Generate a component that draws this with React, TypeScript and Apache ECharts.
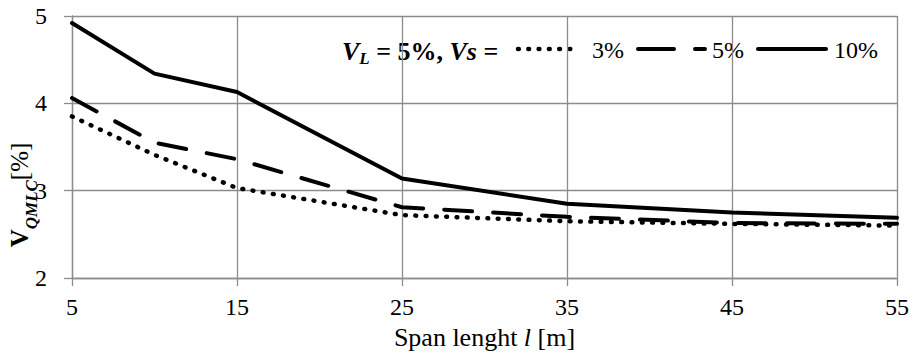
import React, { useEffect, useRef } from 'react';
import * as echarts from 'echarts';

const spans = [5, 10, 15, 25, 35, 45, 55];
const vs3 = [3.85, 3.41, 3.03, 2.72, 2.65, 2.62, 2.6];
const vs5 = [4.06, 3.55, 3.36, 2.81, 2.7, 2.63, 2.62];
const vs10 = [4.92, 4.34, 4.13, 3.14, 2.85, 2.75, 2.69];
const xTicks = [5, 15, 25, 35, 45, 55];
const seriesNames = ['3%', '5%', '10%'];

const FONT = 'Liberation Serif, serif';
const GRID = '#8c8c8c';

export default function App() {
  const ref = useRef<HTMLDivElement>(null);
  useEffect(() => {
    if (!ref.current) return;
    const chart = echarts.init(ref.current, undefined, { renderer: 'svg' });
    const pts = (ys: number[]) => spans.map((x, i) => [x, ys[i]]);
    const dotStyle = { color: '#000', width: 4.5, type: [0.8, 9.5], cap: 'round' as const };
    const dashStyle = { color: '#000', width: 4, type: [28, 21], cap: 'round' as const };
    const solidStyle = { color: '#000', width: 4, type: 'solid' as const, cap: 'round' as const };
    const legendY = 49;
    const txt = (x: number, s: string) => ({
      type: 'text',
      x,
      y: legendY + 1,
      style: { text: s, fontFamily: FONT, fontSize: 24, fill: '#000', align: 'left', verticalAlign: 'middle' },
    });
    chart.setOption({
      animation: false,
      backgroundColor: '#fff',
      textStyle: { fontFamily: FONT },
      grid: { left: 72, right: 17, top: 16, bottom: 80, containLabel: false },
      xAxis: {
        type: 'value',
        min: 5,
        max: 55,
        axisLine: { show: true, lineStyle: { color: GRID, width: 1.3 } },
        axisTick: { show: true, length: 8, customValues: xTicks, lineStyle: { color: GRID, width: 1.3 } },
        splitLine: { show: true, lineStyle: { color: GRID, width: 1.3 } },
        axisLabel: { customValues: xTicks, margin: 17, color: '#000', fontFamily: FONT, fontSize: 24 },
        name: '{n|Span lenght }{i|l}{n| [m]}',
        nameLocation: 'middle',
        nameGap: 46,
        nameTextStyle: {
          fontFamily: FONT,
          rich: {
            n: { fontFamily: FONT, fontSize: 26, color: '#000' },
            i: { fontFamily: FONT, fontSize: 26, fontStyle: 'italic', color: '#000' },
          },
        },
      },
      yAxis: {
        type: 'value',
        min: 2,
        max: 5,
        interval: 1,
        axisLine: { show: true, lineStyle: { color: GRID, width: 1.3 } },
        axisTick: { show: true, length: 8, lineStyle: { color: GRID, width: 1.3 } },
        splitLine: { show: true, lineStyle: { color: GRID, width: 1.3 } },
        axisLabel: { margin: 25, color: '#000', fontFamily: FONT, fontSize: 24 },
      },
      series: [
        { name: seriesNames[0], type: 'line', data: pts(vs3), symbol: 'none', lineStyle: dotStyle, z: 3 },
        { name: seriesNames[1], type: 'line', data: pts(vs5), symbol: 'none', lineStyle: dashStyle, z: 4 },
        { name: seriesNames[2], type: 'line', data: pts(vs10), symbol: 'none', lineStyle: solidStyle, z: 5 },
      ],
      graphic: [
        {
          type: 'text',
          x: 19,
          y: 195,
          rotation: Math.PI / 2,
          style: {
            text: '{v|V}{s|QMLC}{r|[%]}',
            fontFamily: FONT,
            align: 'center',
            verticalAlign: 'middle',
            rich: {
              v: { fontFamily: FONT, fontSize: 25, fontWeight: 'bold', color: '#000', lineHeight: 42 },
              s: { fontFamily: FONT, fontSize: 17, fontWeight: 'bold', fontStyle: 'italic', color: '#000', lineHeight: 42, verticalAlign: 'bottom' },
              r: { fontFamily: FONT, fontSize: 25, color: '#000', lineHeight: 42 },
            },
          },
        },
        {
          type: 'text',
          x: 342,
          y: legendY + 2,
          style: {
            text: '{v|V}{s|L}{b| = 5%, }{v|Vs}{b| =}',
            fontFamily: FONT,
            align: 'left',
            verticalAlign: 'middle',
            rich: {
              v: { fontFamily: FONT, fontSize: 26, fontWeight: 'bold', fontStyle: 'italic', color: '#000', lineHeight: 32 },
              s: { fontFamily: FONT, fontSize: 17, fontWeight: 'bold', fontStyle: 'italic', color: '#000', lineHeight: 32, verticalAlign: 'bottom' },
              b: { fontFamily: FONT, fontSize: 26, fontWeight: 'bold', color: '#000', lineHeight: 32 },
            },
          },
        },
        {
          type: 'line',
          shape: { x1: 518, y1: legendY, x2: 578, y2: legendY },
          style: { stroke: '#000', lineWidth: 4.5, lineDash: [0.8, 9.5], lineCap: 'round' },
        },
        txt(592, seriesNames[0]),
        {
          type: 'line',
          shape: { x1: 638, y1: legendY, x2: 705, y2: legendY },
          style: { stroke: '#000', lineWidth: 4, lineDash: [36, 21], lineCap: 'round' },
        },
        txt(712, seriesNames[1]),
        {
          type: 'line',
          shape: { x1: 758, y1: legendY, x2: 826, y2: legendY },
          style: { stroke: '#000', lineWidth: 4, lineCap: 'round' },
        },
        txt(834, seriesNames[2]),
      ],
    });
    return () => chart.dispose();
  }, []);
  return (
    <div
      ref={ref}
      style={{ position: 'fixed', left: 0, top: 0, width: 914, height: 358, background: '#fff' }}
    />
  );
}
